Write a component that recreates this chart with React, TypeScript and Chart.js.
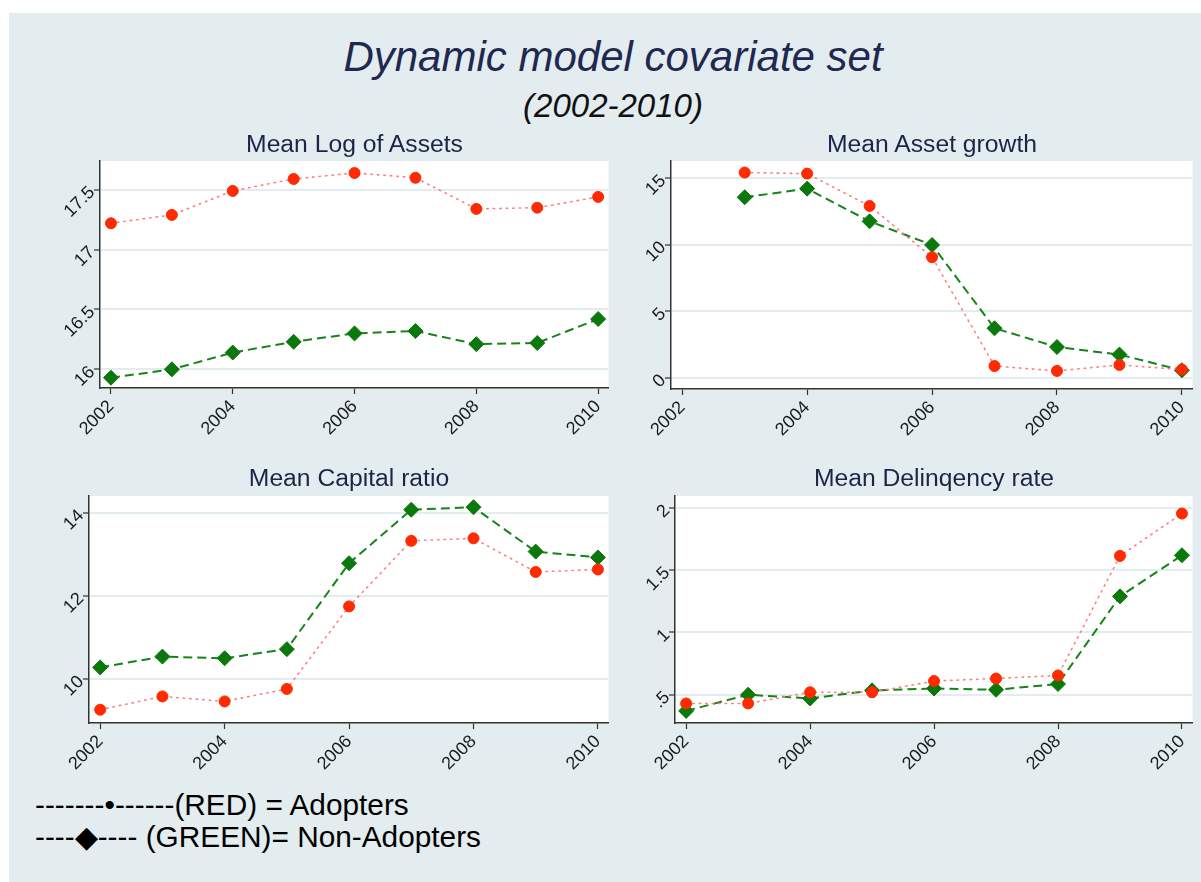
import React, { useEffect, useRef } from 'react';
import { Chart, registerables } from 'chart.js';

Chart.register(...registerables);

const FONT = '"Liberation Sans", Arial, Helvetica, sans-serif';
const BG = '#e3ecee';

// ---- data ----
const years = [2002, 2003, 2004, 2005, 2006, 2007, 2008, 2009, 2010];
const xTicks = [2002, 2004, 2006, 2008, 2010];

const logAssetsRed = [17.22, 17.29, 17.49, 17.59, 17.64, 17.6, 17.34, 17.35, 17.44];
const logAssetsGreen = [15.93, 16.0, 16.14, 16.23, 16.3, 16.32, 16.21, 16.22, 16.42];
const logAssetsTicks = [16, 16.5, 17, 17.5];

const assetGrowthRed = [null, 15.43, 15.35, 12.92, 9.06, 0.87, 0.5, 0.95, 0.6];
const assetGrowthGreen = [null, 13.57, 14.22, 11.76, 9.98, 3.71, 2.3, 1.73, 0.55];
const assetGrowthTicks = [0, 5, 10, 15];

const capitalRed = [9.26, 9.58, 9.46, 9.76, 11.75, 13.33, 13.39, 12.58, 12.64];
const capitalGreen = [10.28, 10.54, 10.5, 10.72, 12.79, 14.08, 14.14, 13.07, 12.93];
const capitalTicks = [10, 12, 14];

const delinqRed = [0.43, 0.43, 0.52, 0.52, 0.61, 0.63, 0.655, 1.615, 1.955];
const delinqGreen = [0.37, 0.5, 0.47, 0.535, 0.55, 0.54, 0.586, 1.29, 1.62];
const delinqTicks = [0.5, 1, 1.5, 2];

const mainTitle = 'Dynamic model covariate set';
const subTitle = '(2002-2010)';
const panelTitles = ['Mean Log of Assets', 'Mean Asset growth', 'Mean Capital ratio', 'Mean Delinqency rate'];
const legendLines = ['-------\u2022------(RED) = Adopters', '----\u25C6---- (GREEN)= Non-Adopters'];

// ---- layout ----
const Y_AXIS_W = 75;
const X_AXIS_H = 60;
const PAD_TOP = 18;
const PAD_RIGHT = 8;
const X_MIN = 2001.82;
const X_MAX = 2010.17;
const TICK_FONT = 18;

const plotBg = {
  id: 'plotBg',
  beforeDraw(chart: any) {
    const { ctx, chartArea } = chart;
    ctx.save();
    ctx.fillStyle = '#ffffff';
    ctx.fillRect(chartArea.left, chartArea.top, chartArea.right - chartArea.left, chartArea.bottom - chartArea.top);
    ctx.restore();
  },
};

const fmtY = (v: number) => (v > 0 && v < 1 ? String(v).replace(/^0/, '') : String(v));

type PanelProps = {
  plot: { left: number; right: number; top: number; bottom: number };
  red: (number | null)[];
  green: (number | null)[];
  yMin: number;
  yMax: number;
  yTicks: number[];
};

function Panel({ plot, red, green, yMin, yMax, yTicks }: PanelProps) {
  const ref = useRef<HTMLCanvasElement>(null);
  const left = plot.left - Y_AXIS_W;
  const top = plot.top - PAD_TOP;
  const width = plot.right + PAD_RIGHT - left;
  const height = plot.bottom + X_AXIS_H - top;

  useEffect(() => {
    const toPts = (arr: (number | null)[]) =>
      years.map((x, i) => ({ x, y: arr[i] })).filter((p) => p.y !== null);
    const chart = new Chart(ref.current as HTMLCanvasElement, {
      type: 'line',
      data: {
        datasets: [
          {
            label: 'Adopters',
            data: toPts(red) as any,
            borderColor: '#ff7f7f',
            borderWidth: 1.6,
            borderDash: [1.5, 5],
            borderCapStyle: 'round',
            pointStyle: 'circle',
            pointRadius: 5.5,
            pointBorderWidth: 1,
            pointBackgroundColor: '#ff2a00',
            pointBorderColor: '#ff2a00',
            tension: 0,
          },
          {
            label: 'Non-Adopters',
            data: toPts(green) as any,
            borderColor: '#168416',
            borderWidth: 2,
            borderDash: [9, 5],
            pointStyle: 'rectRot',
            pointRadius: 7.5,
            pointBorderWidth: 1,
            pointBackgroundColor: '#0b780b',
            pointBorderColor: '#0b780b',
            tension: 0,
          },
        ],
      },
      options: {
        responsive: false,
        animation: false,
        layout: { padding: { top: PAD_TOP, right: PAD_RIGHT, left: 0, bottom: 0 } },
        plugins: { legend: { display: false }, tooltip: { enabled: false }, title: { display: false } },
        scales: {
          x: {
            type: 'linear',
            min: X_MIN,
            max: X_MAX,
            afterBuildTicks: (s: any) => {
              s.ticks = xTicks.map((v) => ({ value: v }));
            },
            afterFit: (s: any) => {
              s.height = X_AXIS_H;
            },
            ticks: {
              minRotation: 45,
              maxRotation: 45,
              padding: 2,
              color: '#1a1a22',
              font: { family: FONT, size: TICK_FONT },
              callback: (v: any) => String(v),
            },
            grid: { drawOnChartArea: false, tickColor: '#333', tickLength: 6, tickWidth: 1.2 },
            border: { color: '#333', width: 1.5 },
          },
          y: {
            type: 'linear',
            min: yMin,
            max: yMax,
            afterBuildTicks: (s: any) => {
              s.ticks = yTicks.map((v) => ({ value: v }));
            },
            afterFit: (s: any) => {
              s.width = Y_AXIS_W;
            },
            ticks: {
              minRotation: 45,
              maxRotation: 45,
              padding: 2,
              color: '#1a1a22',
              font: { family: FONT, size: TICK_FONT },
              callback: (v: any) => fmtY(Number(v)),
            },
            grid: { color: BG, lineWidth: 2, tickColor: '#333', tickLength: 6, tickWidth: 1.2 },
            border: { color: '#333', width: 1.5 },
          },
        },
      } as any,
      plugins: [plotBg],
    });
    return () => chart.destroy();
  }, []);

  return (
    <canvas
      ref={ref}
      width={width}
      height={height}
      style={{ position: 'absolute', left, top, width, height }}
    />
  );
}

function Text({ text, size, baseline, cx, left, italic, color }: any) {
  const style: any = {
    position: 'absolute',
    top: baseline - 0.8465 * size,
    fontFamily: FONT,
    fontSize: size,
    lineHeight: 1,
    fontStyle: italic ? 'italic' : 'normal',
    color,
    whiteSpace: 'pre',
  };
  if (cx !== undefined) {
    style.left = cx - 400;
    style.width = 800;
    style.textAlign = 'center';
  } else {
    style.left = left;
  }
  return <div style={style}>{text}</div>;
}

export default function App() {
  const panels = [
    { plot: { left: 100, right: 609, top: 161, bottom: 388 }, red: logAssetsRed, green: logAssetsGreen, yMin: 15.844, yMax: 17.74, yTicks: logAssetsTicks, titleBase: 152.7 },
    { plot: { left: 671, right: 1193, top: 161, bottom: 389 }, red: assetGrowthRed, green: assetGrowthGreen, yMin: -0.86, yMax: 16.3, yTicks: assetGrowthTicks, titleBase: 152.7 },
    { plot: { left: 89, right: 609, top: 496, bottom: 723 }, red: capitalRed, green: capitalGreen, yMin: 8.94, yMax: 14.41, yTicks: capitalTicks, titleBase: 487.3 },
    { plot: { left: 675, right: 1193, top: 496, bottom: 723 }, red: delinqRed, green: delinqGreen, yMin: 0.273, yMax: 2.096, yTicks: delinqTicks, titleBase: 487.3 },
  ];
  return (
    <div style={{ position: 'absolute', left: 0, top: 0, width: 1201, height: 882, background: '#ffffff', overflow: 'hidden' }}>
      <div style={{ position: 'absolute', left: 9, top: 13, right: 0, bottom: 0, background: BG }} />
      {panels.map((p, i) => (
        <Panel key={i} plot={p.plot} red={p.red} green={p.green} yMin={p.yMin} yMax={p.yMax} yTicks={p.yTicks} />
      ))}
      <Text text={mainTitle} size={42} baseline={71.7} cx={613} italic color="#1f2850" />
      <Text text={subTitle} size={33} baseline={116.7} cx={613} italic color="#111" />
      {panels.map((p, i) => (
        <Text key={'t' + i} text={panelTitles[i]} size={24.7} baseline={p.titleBase} cx={(p.plot.left + p.plot.right) / 2} color="#1c2448" />
      ))}
      <Text text={legendLines[0]} size={29.8} baseline={815.7} left={35} color="#000" />
      <Text text={legendLines[1]} size={29.8} baseline={847} left={35} color="#000" />
    </div>
  );
}
